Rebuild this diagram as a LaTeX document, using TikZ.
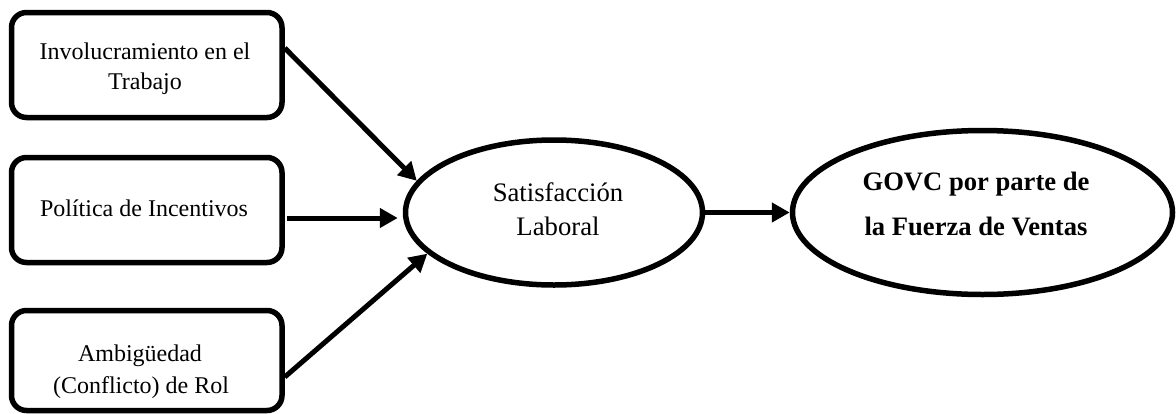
\documentclass[tikz,border=0pt]{standalone}
\usepackage{fontspec}
\setmainfont{Liberation Serif}
\usetikzlibrary{arrows.meta,shapes.geometric,calc}

\tikzset{
  factor/.style={draw, line width=5.5pt, rounded corners=15pt, minimum width=270.5pt,
                 minimum height=105pt, inner sep=0pt},
  construct/.style={draw, ellipse, line width=5.5pt, inner sep=0pt},
  boxtext/.style={anchor=base, inner sep=0pt, font=\fontsize{24}{30}\selectfont},
  ovaltext/.style={anchor=base, inner sep=0pt, font=\fontsize{26.7}{34}\selectfont},
  goaltext/.style={anchor=base, inner sep=0pt, font=\fontsize{26.6}{45}\selectfont\bfseries},
  link/.style={line width=5pt, -{Triangle[length=18pt,width=19pt]}}
}

\begin{document}
\begin{tikzpicture}[x=1pt,y=-1pt]
  \useasboundingbox (0,0) rectangle (1176,413);

  % antecedents
  \node[factor] (b1) at (146.75,65) {};
  \node[factor] (b2) at (146.75,210) {};
  \node[factor, minimum height=100pt] (b3) at (146.75,360.5) {};

  \node[boxtext] (t1a) at (145,59) {Involucramiento en el};
  \node[boxtext] (t1b) at (145,89.5) {Trabajo};
  \node[boxtext] (t2a) at (144,216) {Política de Incentivos};
  \node[boxtext] (t3a) at (140,361) {Ambigüedad};
  \node[boxtext] (t3b) at (141,393.5) {(Conflicto) de Rol};

  % mediator and outcome
  \node[construct, minimum width=297pt, minimum height=145pt] (sat) at (554,212.5) {};
  \node[ovaltext] (s1) at (558,201) {Satisfacción};
  \node[ovaltext] (s2) at (558,235) {Laboral};

  \node[construct, minimum width=380pt, minimum height=164pt] (gov) at (982.5,212.5) {};
  \node[goaltext] (g1) at (976,190) {GOVC por parte de};
  \node[goaltext] (g2) at (976,235) {la Fuerza de Ventas};

  % paths
  \coordinate (p1) at ($(b1.east)+(0,-17)$);
  \coordinate (p2) at ($(b2.east)+(2,8)$);
  \coordinate (p3) at ($(b3.east)+(0,16.5)$);
  \coordinate (q2) at ($(p2 -| sat.west)+(-5,0)$);
  \draw[link] (p1) -- (sat.167);
  \draw[link] (p2) -- (q2);
  \draw[link] (p3) -- (sat.198);
  \draw[link] (sat.east) -- (gov.west);
\end{tikzpicture}
\end{document}
